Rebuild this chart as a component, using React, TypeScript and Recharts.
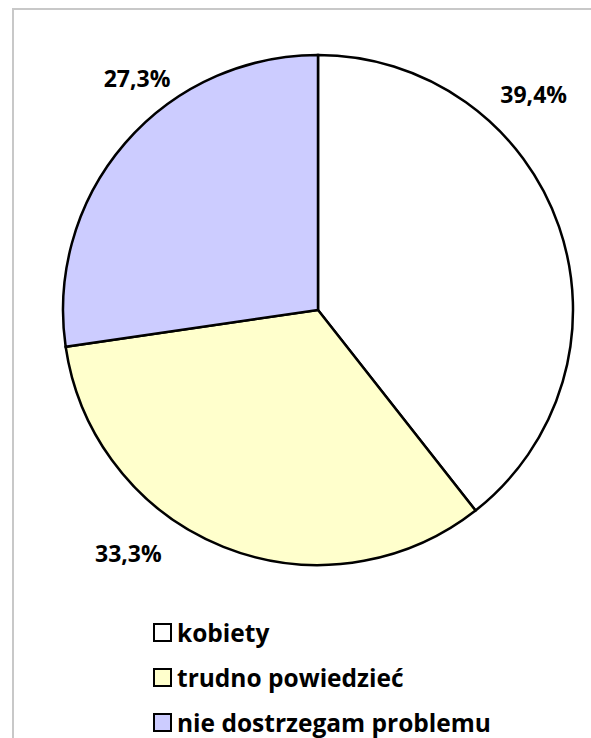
import { PieChart, Pie, Cell, Legend } from 'recharts';

const categories = ['kobiety', 'trudno powiedzieć', 'nie dostrzegam problemu'];
const shares = [39.4, 33.3, 27.3];
const sliceColors = ['#FFFFFF', '#FFFFCC', '#CCCCFF'];

// where Excel put each percentage label (angle clockwise from 12 o'clock, distance from centre)
const labelAngles = [45, 218, 322];
const labelRadii = [305, 308, 294];

const data = categories.map((name, i) => ({ name, value: shares[i] }));

const font = '"Open Sans", Lato, sans-serif';

function renderLabel(props: any) {
  const { cx, cy, index } = props;
  const a = (labelAngles[index] * Math.PI) / 180;
  const x = cx + labelRadii[index] * Math.sin(a);
  const y = cy - labelRadii[index] * Math.cos(a);
  return (
    <text
      x={x}
      y={y}
      textAnchor="middle"
      dominantBaseline="central"
      fontFamily={font}
      fontWeight="bold"
      fontSize={23}
      fill="#000"
    >
      {shares[index].toFixed(1).replace('.', ',') + '%'}
    </text>
  );
}

function LegendBox() {
  return (
    <div style={{ fontFamily: font, fontWeight: 'bold', fontSize: 24.5, color: '#000', whiteSpace: 'nowrap' }}>
      {categories.map((name, i) => (
        <div key={name} style={{ display: 'flex', alignItems: 'center', height: 45 }}>
          <span
            style={{
              display: 'inline-block',
              width: 15,
              height: 15,
              border: '2px solid #000',
              background: sliceColors[i],
              marginRight: 5,
            }}
          />
          <span>{name}</span>
        </div>
      ))}
    </div>
  );
}

export default function App() {
  return (
    <div
      style={{
        position: 'absolute',
        left: 12,
        top: 8,
        width: 577,
        height: 728,
        overflow: 'hidden',
        borderTop: '2px solid #c8c8c8',
        borderLeft: '2px solid #c8c8c8',
        background: '#fff',
      }}
    >
      <PieChart width={577} height={728} margin={{ top: 0, right: 0, bottom: 0, left: 0 }}>
        <Pie
          data={data}
          dataKey="value"
          nameKey="name"
          cx={304}
          cy={300}
          outerRadius={255}
          startAngle={90}
          endAngle={-270}
          stroke="#000"
          strokeWidth={2.5}
          label={renderLabel}
          labelLine={false}
          isAnimationActive={false}
        >
          {data.map((d, i) => (
            <Cell key={d.name} fill={sliceColors[i]} />
          ))}
        </Pie>
        <Legend
          content={() => <LegendBox />}
          wrapperStyle={{ position: 'absolute', left: 139, top: 600, width: 'auto' }}
        />
      </PieChart>
    </div>
  );
}
